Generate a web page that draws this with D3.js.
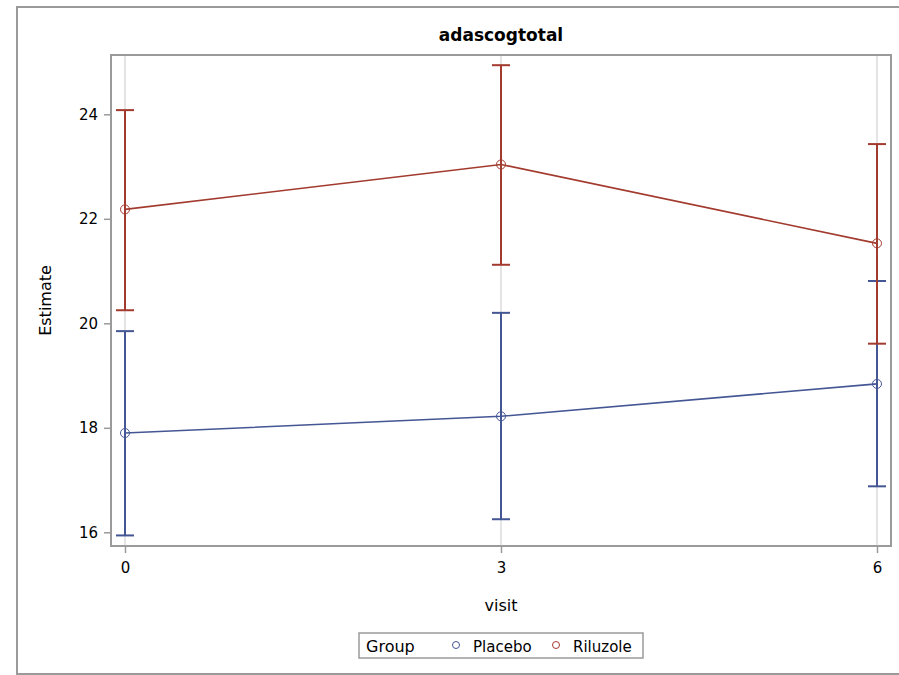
<!DOCTYPE html>
<html>
<head>
<meta charset="utf-8">
<script src="https://cdn.jsdelivr.net/npm/d3@7"></script>
<style>
  body { margin: 0; background: #fff; }
  svg { display: block; font-family: "DejaVu Sans", sans-serif; }
</style>
</head>
<body>
<svg id="chart" width="899" height="675"></svg>
<script>
(function () {
    'use strict';

    // ── Data ──────────────────────────────────────────────
    const visits = [0, 3, 6];
    const groups = ['Placebo', 'Riluzole'];
    const placeboEst   = [17.90, 18.22, 18.84];
    const placeboLower = [15.94, 16.25, 16.88];
    const placeboUpper = [19.85, 20.20, 20.81];
    const riluzoleEst   = [22.18, 23.04, 21.53];
    const riluzoleLower = [20.25, 21.12, 19.61];
    const riluzoleUpper = [24.08, 24.94, 23.43];
    const yTicks = [16, 18, 20, 22, 24];

    const COLORS = { Placebo: '#445694', Riluzole: '#A23A2E' };
    const FRAME = '#9a9a9a';

    const series = [
        { name: 'Placebo',  est: placeboEst,  lo: placeboLower,  hi: placeboUpper },
        { name: 'Riluzole', est: riluzoleEst, lo: riluzoleLower, hi: riluzoleUpper },
    ];

    // ── Layout ────────────────────────────────────────────
    const plot = { left: 111, top: 55, right: 891, bottom: 546 };

    const svg = d3.select('#chart');

    // outer border (runs off the right edge)
    svg.append('rect')
        .attr('x', 17).attr('y', 7)
        .attr('width', 900).attr('height', 667)
        .attr('fill', 'none')
        .attr('stroke', FRAME)
        .attr('stroke-width', 2);

    const x = d3.scaleLinear().domain([0, 6]).range([125, 877]);
    const y = d3.scaleLinear().domain([16, 24]).range([532.3, 114.3]);

    // vertical grid at visits
    svg.append('g')
        .selectAll('line')
        .data(visits)
        .join('line')
        .attr('x1', d => x(d)).attr('x2', d => x(d))
        .attr('y1', plot.top).attr('y2', plot.bottom)
        .attr('stroke', '#e4e4e4')
        .attr('stroke-width', 2);

    // ── Axes ──────────────────────────────────────────────
    const xAxis = svg.append('g')
        .attr('transform', `translate(0,${plot.bottom})`)
        .call(d3.axisBottom(x).tickValues(visits).tickSize(7).tickPadding(9).tickFormat(d3.format('d')));
    const yAxis = svg.append('g')
        .attr('transform', `translate(${plot.left},0)`)
        .call(d3.axisLeft(y).tickValues(yTicks).tickSize(7).tickPadding(6).tickFormat(d3.format('d')));

    [xAxis, yAxis].forEach(a => {
        a.attr('font-size', null).attr('font-family', null);
        a.select('.domain').remove();
        a.selectAll('.tick line').attr('stroke', FRAME).attr('stroke-width', 1.5);
        a.selectAll('.tick text')
            .style('font-size', '15px')
            .attr('fill', '#000');
    });

    // plot frame
    svg.append('rect')
        .attr('x', plot.left).attr('y', plot.top)
        .attr('width', plot.right - plot.left)
        .attr('height', plot.bottom - plot.top)
        .attr('fill', 'none')
        .attr('stroke', FRAME)
        .attr('stroke-width', 2);

    // ── Series ────────────────────────────────────────────
    const CAP = 9;
    series.forEach(s => {
        const color = COLORS[s.name];
        const g = svg.append('g');
        const pts = visits.map((v, i) => ({ v, est: s.est[i], lo: s.lo[i], hi: s.hi[i] }));

        g.selectAll('.bar')
            .data(pts)
            .join('line')
            .attr('x1', d => x(d.v)).attr('x2', d => x(d.v))
            .attr('y1', d => y(d.lo)).attr('y2', d => y(d.hi))
            .attr('stroke', color).attr('stroke-width', 2);

        ['lo', 'hi'].forEach(k => {
            g.selectAll('.cap-' + k)
                .data(pts)
                .join('line')
                .attr('x1', d => x(d.v) - CAP).attr('x2', d => x(d.v) + CAP)
                .attr('y1', d => y(d[k])).attr('y2', d => y(d[k]))
                .attr('stroke', color).attr('stroke-width', 2);
        });

        g.append('path')
            .datum(pts)
            .attr('fill', 'none')
            .attr('stroke', color)
            .attr('stroke-width', 1.6)
            .attr('d', d3.line().x(d => x(d.v)).y(d => y(d.est)));

        g.selectAll('circle')
            .data(pts)
            .join('circle')
            .attr('cx', d => x(d.v)).attr('cy', d => y(d.est))
            .attr('r', 4.5)
            .attr('fill', 'none')
            .attr('stroke', color)
            .attr('stroke-width', 1);
    });

    // ── Titles ────────────────────────────────────────────
    svg.append('text')
        .attr('x', (plot.left + plot.right) / 2).attr('y', 41)
        .attr('text-anchor', 'middle')
        .attr('font-size', 17).attr('font-weight', 'bold')
        .text('adascogtotal');

    svg.append('text')
        .attr('x', (plot.left + plot.right) / 2).attr('y', 611)
        .attr('text-anchor', 'middle')
        .attr('font-size', 16)
        .text('visit');

    svg.append('text')
        .attr('transform', `translate(51,${(plot.top + plot.bottom) / 2}) rotate(-90)`)
        .attr('text-anchor', 'middle')
        .attr('font-size', 16)
        .text('Estimate');

    // ── Legend ────────────────────────────────────────────
    const lg = svg.append('g');
    lg.append('rect')
        .attr('x', 359).attr('y', 633)
        .attr('width', 284).attr('height', 25)
        .attr('fill', 'none')
        .attr('stroke', FRAME)
        .attr('stroke-width', 1.5);
    lg.append('text')
        .attr('x', 366).attr('y', 652)
        .attr('font-size', 16)
        .text('Group');
    const legX = [456, 556];
    groups.forEach((name, i) => {
        lg.append('circle')
            .attr('cx', legX[i]).attr('cy', 645)
            .attr('r', 3.5)
            .attr('fill', 'none')
            .attr('stroke', COLORS[name])
            .attr('stroke-width', 1);
        lg.append('text')
            .attr('x', legX[i] + 17).attr('y', 652)
            .attr('font-size', 15)
            .text(name);
    });
})();
</script>
</body>
</html>
